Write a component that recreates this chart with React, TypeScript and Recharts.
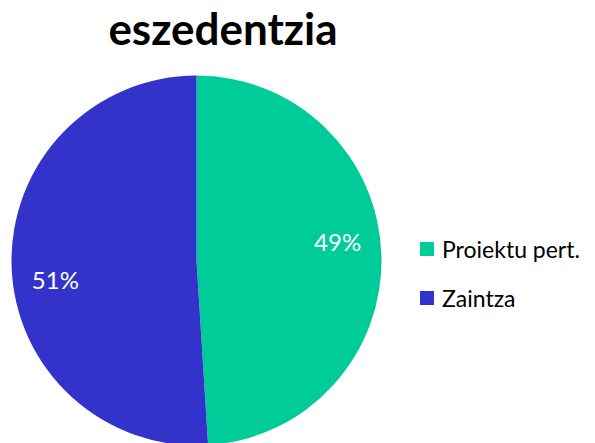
import { Cell, Legend, Pie, PieChart } from "recharts";

const categories = ["Proiektu pert.", "Zaintza"];
const shares = [49, 51];
const colors = ["#00CC99", "#3333CC"];

const data = categories.map((name, i) => ({ name, value: shares[i] }));

const RAD = Math.PI / 180;

const renderLabel = (p: any) => {
  const { cx, cy, midAngle, outerRadius, percent } = p;
  const a = (midAngle + 6) * RAD;
  const r = outerRadius * 0.77;
  return (
    <text
      x={cx + r * Math.cos(a)}
      y={cy - r * Math.sin(a)}
      fill="#fff"
      textAnchor="middle"
      dominantBaseline="central"
      fontSize={24}
      fontFamily="Lato, sans-serif"
    >
      {`${Math.round(percent * 100)}%`}
    </text>
  );
};

const LegendBox = ({ payload }: any) => (
  <div style={{ fontFamily: "Lato, sans-serif", fontSize: 23, color: "#000" }}>
    {(payload ?? []).map((e: any) => (
      <div key={e.value} style={{ display: "flex", alignItems: "center", height: 49 }}>
        <span style={{ width: 14, height: 14, background: e.color, marginRight: 8, display: "inline-block" }} />
        {e.value}
      </div>
    ))}
  </div>
);

export default function App() {
  return (
    <div style={{ position: "absolute", left: 0, top: 0, width: 595, height: 443, background: "#fff" }}>
      <div
        style={{
          position: "absolute",
          left: 0,
          top: 2,
          width: 446,
          textAlign: "center",
          fontFamily: "Lato, sans-serif",
          fontWeight: "bold",
          fontSize: 44,
          color: "#000",
        }}
      >
        eszedentzia
      </div>
      <PieChart width={595} height={443}>
        <Pie
          data={data}
          dataKey="value"
          nameKey="name"
          cx={191.5}
          cy={255.5}
          outerRadius={185}
          startAngle={90}
          endAngle={-270}
          stroke="none"
          label={renderLabel}
          labelLine={false}
          isAnimationActive={false}
        >
          {data.map((d, i) => (
            <Cell key={d.name} fill={colors[i]} />
          ))}
        </Pie>
        <Legend
          layout="vertical"
          align="right"
          verticalAlign="top"
          content={<LegendBox />}
          wrapperStyle={{ left: 420, top: 224, width: 175 }}
        />
      </PieChart>
    </div>
  );
}
